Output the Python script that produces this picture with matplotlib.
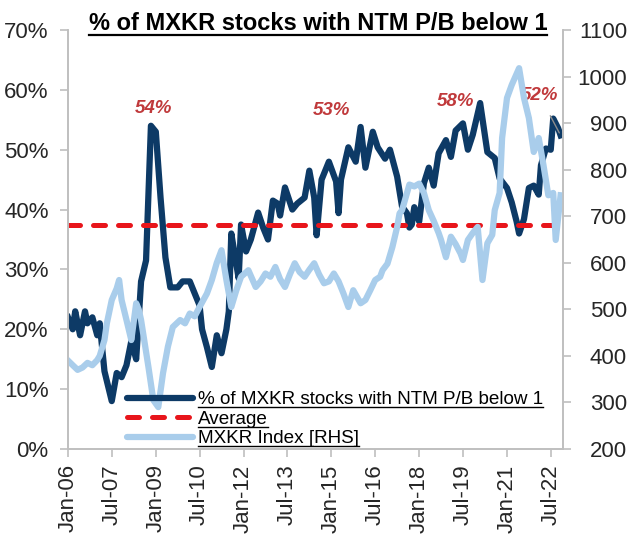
import matplotlib
matplotlib.use("Agg")
import matplotlib.pyplot as plt
import pandas as pd
from matplotlib.lines import Line2D

plt.rcParams["font.family"] = ["Liberation Sans", "DejaVu Sans"]

# % of MXKR stocks with NTM P/B below 1 (LHS)
pb_dates = [
    "2006-01", "2006-03", "2006-04", "2006-06", "2006-08", "2006-09", "2006-11",
    "2007-01", "2007-02", "2007-04", "2007-07", "2007-09", "2007-11", "2008-01",
    "2008-03", "2008-05", "2008-07", "2008-09", "2008-11", "2009-01", "2009-03",
    "2009-05", "2009-07", "2009-10", "2009-12", "2010-03", "2010-05", "2010-07",
    "2010-08", "2010-10", "2010-12", "2011-02", "2011-04", "2011-06", "2011-07",
    "2011-08", "2011-10", "2011-11", "2011-12", "2012-02", "2012-04", "2012-07",
    "2012-09", "2012-11", "2013-01", "2013-03", "2013-04", "2013-06", "2013-09",
    "2013-11", "2014-02", "2014-04", "2014-06", "2014-07", "2014-09", "2014-12",
    "2015-03", "2015-04", "2015-05", "2015-08", "2015-11", "2016-01", "2016-03",
    "2016-06", "2016-08", "2016-11", "2017-01", "2017-04", "2017-06", "2017-08",
    "2017-09", "2017-10", "2017-11", "2018-01", "2018-03", "2018-05", "2018-07",
    "2018-09", "2018-12", "2019-02", "2019-04", "2019-07", "2019-09", "2019-11",
    "2020-02", "2020-05", "2020-08", "2020-10", "2021-01", "2021-03", "2021-05",
    "2021-06", "2021-08", "2021-10", "2021-12", "2022-02", "2022-03", "2022-05",
    "2022-07", "2022-08", "2022-10", "2022-11",
]
pb_values = [
    22, 20, 23, 19, 23, 21, 22,
    19, 21, 13, 8, 12.7, 12, 14,
    18, 15, 28, 31.5, 54, 53, 42,
    32, 27, 27, 28, 28, 26, 24,
    20, 17, 13.7, 19, 16, 20, 23,
    36, 31, 28.5, 37.5, 33, 35, 39.5,
    37, 35, 41.5, 41, 39, 43.7, 40,
    41, 42, 46.5, 42, 35.7, 45, 48,
    44.7, 39.4, 45, 50.4, 48, 53.8, 47,
    53, 50.4, 48.5, 50, 45.5, 40.5, 39.4,
    37, 37.5, 40.4, 38, 44.4, 47, 44,
    49.4, 51.6, 48.8, 53.2, 54.4, 50, 52.5,
    57.8, 49.6, 48.6, 45.2, 43.6, 41.2, 38,
    36, 38.4, 43.6, 44, 42.5, 47.4, 50.2,
    50, 55.2, 53.6, 52.4,
]
pb_average = 37.4

# MXKR Index (RHS)
idx_dates = [
    "2006-01", "2006-03", "2006-05", "2006-07", "2006-09", "2006-11", "2007-01",
    "2007-02", "2007-04", "2007-05", "2007-07", "2007-09", "2007-10", "2007-11",
    "2008-01", "2008-03", "2008-05", "2008-06", "2008-07", "2008-10", "2008-12",
    "2009-02", "2009-04", "2009-06", "2009-08", "2009-11", "2010-01", "2010-03",
    "2010-05", "2010-07", "2010-10", "2010-12", "2011-02", "2011-04", "2011-06",
    "2011-08", "2011-10", "2011-12", "2012-03", "2012-06", "2012-08", "2012-10",
    "2012-12", "2013-02", "2013-04", "2013-06", "2013-08", "2013-10", "2013-12",
    "2014-02", "2014-04", "2014-06", "2014-08", "2014-10", "2014-12", "2015-02",
    "2015-04", "2015-06", "2015-08", "2015-10", "2016-01", "2016-03", "2016-05",
    "2016-07", "2016-09", "2016-10", "2016-12", "2017-02", "2017-04", "2017-05",
    "2017-06", "2017-09", "2017-11", "2018-01", "2018-03", "2018-05", "2018-07",
    "2018-09", "2018-10", "2018-12", "2019-02", "2019-04", "2019-06", "2019-07",
    "2019-09", "2019-11", "2020-01", "2020-03", "2020-05", "2020-07", "2020-08",
    "2020-10", "2020-11", "2021-01", "2021-03", "2021-06", "2021-08", "2021-10",
    "2021-12", "2022-02", "2022-04", "2022-06", "2022-08", "2022-09", "2022-11",
]
idx_values = [
    390, 380, 370, 375, 385, 380, 391,
    400, 434, 470, 520, 545, 563, 520,
    477, 434, 513, 500, 477, 376, 305,
    290, 363, 420, 462, 477, 470, 491,
    485, 505, 534, 563, 600, 627, 563,
    505, 540, 570, 584, 548, 560, 577,
    570, 591, 565, 548, 575, 599, 580,
    570, 585, 599, 575, 556, 560, 577,
    560, 534, 505, 541, 513, 520, 541,
    563, 570, 584, 598, 634, 677, 706,
    713, 768, 764, 770, 750, 713, 690,
    664, 649, 612, 656, 640, 620, 606,
    649, 664, 677, 563, 642, 660, 713,
    750, 868, 954, 982, 1018, 954, 911,
    838, 868, 810, 745, 750, 649, 745,
]

# peak call-outs: label, date, y position (LHS units)
peak_labels = ["54%", "53%", "58%"]
peak_dates = ["2008-12", "2015-01", "2019-04"]
peak_text_y = [56.9, 56.6, 58.0]

NAVY = "#0d3a66"
LIGHT = "#a9cdeb"
RED = "#e8151b"
LABEL_RED = "#c0393b"
GREY = "#bfbfbf"

pb_x = pd.to_datetime(pb_dates)
idx_x = pd.to_datetime(idx_dates)

fig = plt.figure(figsize=(6.3, 5.46), dpi=100)
ax = fig.add_axes([68 / 630, 1 - 449 / 546, (563 - 68) / 630, (449 - 30) / 546])
ax2 = ax.twinx()

ax.plot(pb_x, pb_values, color=NAVY, lw=4.5, solid_joinstyle="round")
ax.axhline(pb_average, color=RED, lw=3.6, linestyle=(0, (2.4, 2.6)),
           dash_capstyle="round")
ax2.plot(idx_x, idx_values, color=LIGHT, lw=4.5, solid_joinstyle="round")

ax.set_ylim(0, 70)
ax.set_yticks(range(0, 71, 10))
ax.set_yticklabels([f"{v}%" for v in range(0, 71, 10)])
ax2.set_ylim(200, 1100)
ax2.set_yticks(range(200, 1101, 100))

ax.set_xlim(pd.Timestamp("2006-01-01"), pd.Timestamp("2022-12-01"))
ticks = pd.date_range("2006-01-01", "2022-07-01", freq="18MS")
ax.set_xticks(ticks)
ax.set_xticklabels([t.strftime("%b-%y") for t in ticks], rotation=90)

for a in (ax, ax2):
    a.spines["top"].set_visible(False)
    for side in ("left", "right", "bottom"):
        a.spines[side].set_color(GREY)
        a.spines[side].set_linewidth(1.2)
    a.tick_params(colors=GREY, labelcolor="#262626", labelsize=16,
                  length=6, width=1.2, direction="out")
ax.tick_params(axis="y", pad=8)
ax.tick_params(axis="x", pad=5)
# right-hand labels are right-aligned, ending near the figure edge
ax2.tick_params(axis="y", pad=40)
for lbl in ax2.get_yticklabels():
    lbl.set_horizontalalignment("right")

for lab, d, y in zip(peak_labels, peak_dates, peak_text_y):
    ax.text(pd.Timestamp(d), y, lab, color=LABEL_RED, fontsize=13.5,
            fontweight="bold", fontstyle="italic", ha="center", va="center")

ax.annotate("52%", xy=(pb_x[-1], pb_values[-1]),
            xytext=(pd.Timestamp("2022-02-15"), 59.0),
            color=LABEL_RED, fontsize=13.5, fontweight="bold", fontstyle="italic",
            ha="center", va="center",
            arrowprops=dict(arrowstyle="-", color="#8c8c8c", lw=1,
                            shrinkA=7, shrinkB=2))

title = fig.text(318 / 630, 1 - 24 / 546, "% of MXKR stocks with NTM P/B below 1",
                 fontsize=17, fontweight="bold", ha="center", va="center")

handles = [
    Line2D([], [], color=NAVY, lw=4.5, solid_capstyle="round"),
    Line2D([], [], color=RED, lw=3.6, linestyle=(0, (2.4, 2.6)), dash_capstyle="round"),
    Line2D([], [], color=LIGHT, lw=4.5, solid_capstyle="round"),
]
labels = ["% of MXKR stocks with NTM P/B below 1", "Average", "MXKR Index [RHS]"]
leg = fig.legend(handles, labels, loc="upper left",
                 bbox_to_anchor=(127 / 630, 1 - 391 / 546),
                 frameon=False, fontsize=13.6, handlelength=3.5,
                 handletextpad=0.25, labelspacing=0.12, borderpad=0,
                 borderaxespad=0)

# underline title and legend texts
fig.canvas.draw()
renderer = fig.canvas.get_renderer()
inv = fig.transFigure.inverted()


def underline(txt, lw):
    bb = txt.get_window_extent(renderer)
    (x0, y0), (x1, _) = inv.transform([(bb.x0, bb.y0 + 1), (bb.x1, bb.y0)])
    fig.add_artist(Line2D([x0, x1], [y0, y0], color="black", lw=lw,
                          transform=fig.transFigure))


underline(title, 1.6)
for t in leg.get_texts():
    underline(t, 1.0)

fig.savefig("out.png", dpi=100)
